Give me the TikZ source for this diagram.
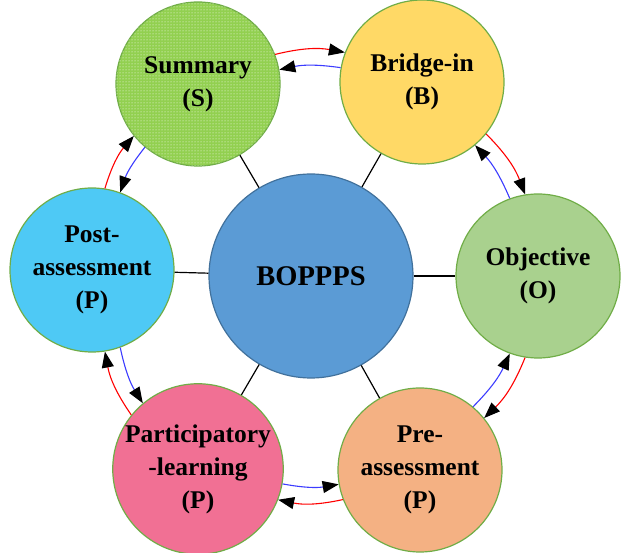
\documentclass[tikz,border=0pt]{standalone}
\usepackage{fontspec}
\setmainfont{Liberation Serif}
\usetikzlibrary{arrows.meta,patterns}

\definecolor{ringgreen}{RGB}{112,173,71}
\definecolor{sumgreen}{RGB}{146,208,80}
\definecolor{bridgeyellow}{RGB}{255,217,102}
\definecolor{objgreen}{RGB}{169,209,142}
\definecolor{preorange}{RGB}{244,177,131}
\definecolor{partpink}{RGB}{241,112,148}
\definecolor{postcyan}{RGB}{78,201,245}
\definecolor{corefill}{RGB}{91,155,213}
\definecolor{coreedge}{RGB}{65,113,156}
\definecolor{backblue}{RGB}{60,60,255}

\tikzset{
    stage/.style={circle, draw=ringgreen, line width=1.2pt, minimum size=164pt,
        inner sep=0pt, align=center, font=\fontsize{25.5}{33}\selectfont\bfseries},
    fwd/.style={red, line width=1.1pt, bend left=12,
        -{Triangle[length=16pt, width=12pt, color=black, fill=black]}},
    back/.style={backblue, line width=1.1pt, bend right=10,
        -{Triangle[length=16pt, width=12pt, color=black, fill=black]}},
}

\begin{document}
\begin{tikzpicture}[x=1pt, y=1pt]
    \useasboundingbox (0,0) rectangle (630,-553);

    % Centre and the six stages
    \node[circle, draw=coreedge, line width=1.2pt, fill=corefill, minimum size=204pt,
        font=\fontsize{28.5}{34}\selectfont\bfseries] (C) at (311,-276) {BOPPPS};
    \node[stage, fill=sumgreen, postaction={pattern=dots, pattern color=white}] (S) at (198,-84) {Summary\\(S)};
    \node[stage, fill=bridgeyellow] (B) at (422,-82) {Bridge-in\\(B)};
    \node[stage, fill=objgreen] (O) at (538,-276) {Objective\\(O)};
    \node[stage, fill=preorange] (Pr) at (420,-470) {Pre-\\assessment\\(P)};
    \node[stage, fill=partpink] (Pa) at (198,-469) {Participatory\\-learning\\(P)};
    \node[stage, fill=postcyan] (Po) at (92,-270) {Post-\\assessment\\(P)};

    % Spokes
    \foreach \s in {S,B,O,Pr,Pa,Po}
        \draw[line width=1.2pt] (C) -- (\s);

    % Forward (red) and backward (blue) arcs
    \foreach \a/\b/\d in {S/B/0, B/O/-60, O/Pr/-120, Pr/Pa/180, Pa/Po/120, Po/S/60} {
        \pgfmathsetmacro{\rs}{\d+21}
        \pgfmathsetmacro{\re}{\d+159}
        \pgfmathsetmacro{\bs}{\d+170}
        \pgfmathsetmacro{\be}{\d+10}
        \draw[fwd] (\a.\rs) to (\b.\re);
        \draw[back] (\b.\bs) to (\a.\be);
    }
\end{tikzpicture}
\end{document}
